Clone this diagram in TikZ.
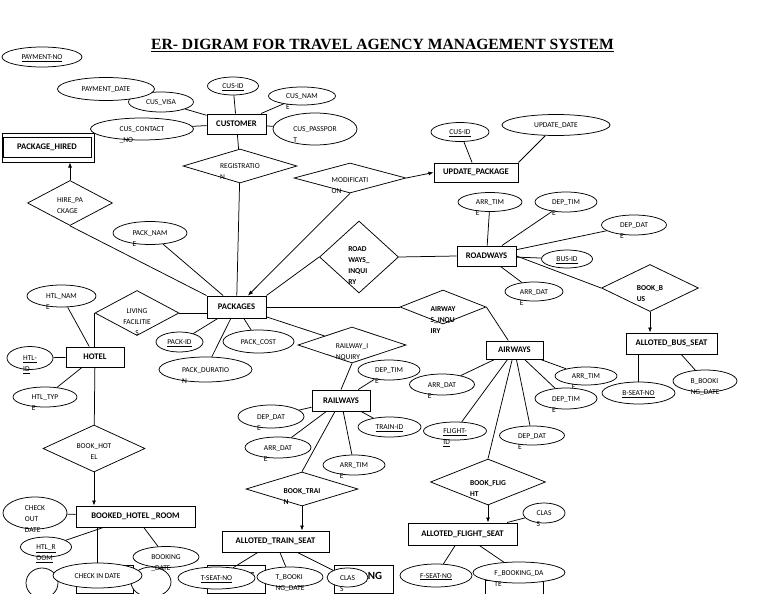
\documentclass[tikz,border=0pt]{standalone}
\usepackage{fontspec}
\setmainfont{Carlito}
\newfontfamily\titlefont{Liberation Serif}
\usetikzlibrary{arrows.meta,shapes.geometric}
\newcommand{\attrfont}{\fontsize{7.5}{11}\selectfont}
\newcommand{\entfont}{\fontsize{8.6}{10}\selectfont\bfseries}
% text lines: first line sits on the node centre, the rest hang below
\newcommand{\atxt}[2][0pt]{\smash{\raisebox{\dimexpr-0.7ex+#1\relax}{\begin{tabular}[t]{@{}l@{}}#2\end{tabular}}}}
\newcommand{\atxtc}[2][0pt]{\smash{\raisebox{\dimexpr-0.7ex+#1\relax}{\begin{tabular}[t]{@{}c@{}}#2\end{tabular}}}}

\begin{document}
\begin{tikzpicture}[x=1pt,y=-1pt,
  wh/.style 2 args={minimum width=#1,minimum height=#2},
  ent/.style={draw,line width=1pt,fill=white,font=\entfont,inner sep=0pt},
  frame/.style={draw,line width=1pt,fill=white,inner sep=0pt},
  attr/.style={draw,ellipse,line width=0.75pt,fill=white,font=\attrfont,inner sep=0pt},
  rel/.style={draw,diamond,aspect=3,line width=0.75pt,fill=white,font=\attrfont,inner sep=0pt},
  relb/.style={rel,font=\attrfont\bfseries},
  link/.style={line width=0.75pt},
  arr/.style={-{Latex[length=5pt,width=4pt]},line width=0.75pt}
]
\useasboundingbox (0,0) rectangle (768,594);
\node[font=\titlefont\fontsize{15.6}{18}\selectfont\bfseries,anchor=base] (title) at (382.5,50)
  {\underline{ER- DIGRAM FOR TRAVEL AGENCY MANAGEMENT SYSTEM}};

% customer side
\node[ent,wh={59}{20}] (customer) at (236.5,124) {CUSTOMER};
\node[attr,wh={80}{20}] (payno) at (42,57) {\atxt{\underline{PAYMENT-NO}}};
\node[attr,wh={65}{20}] (cusvisa) at (161,102) {\atxt{CUS\_VISA}};
\node[attr,wh={97}{23}] (paydate) at (106,89) {\atxt{PAYMENT\_DATE}};
\node[attr,wh={51}{18}] (cusid) at (233,86) {\atxt{\underline{CUS-ID}}};
\node[attr,wh={67}{18}] (cusnam) at (302,96) {\atxt{CUS\_NAM\\E}};
\node[attr,wh={84}{32}] (cuspass) at (315,129) {\atxt{CUS\_PASSPOR\\T}};
\node[frame,wh={92}{29}] (pkghired) at (48,147.5) {};
\node[ent,wh={88}{20}] (pkghiredin) at (47,147) {PACKAGE\_HIRED};
\node[attr,wh={103}{22}] (cuscontact) at (142,129) {\atxt{CUS\_CONTACT\\\_NO}};
\node[rel,wh={114}{34}] (reg) at (240,166) {\atxt{REGISTRATIO\\N}};
\node[rel,wh={85}{45}] (hire) at (70,203) {\atxt[3pt]{HIRE\_PA\\CKAGE}};
\node[rel,wh={112}{30}] (modif) at (350,178) {\atxt[-2pt]{MODIFICATI\\ON}};
\node[ent,wh={84}{19}] (update) at (476,172.5) {UPDATE\_PACKAGE};
\node[attr,wh={58}{19}] (cusid2) at (460,132) {\atxt{\underline{CUS-ID}}};
\node[attr,wh={108}{21}] (updatedate) at (556,125) {\atxt{UPDATE\_DATE}};

% packages
\node[ent,wh={59}{22}] (packages) at (236.5,307) {PACKAGES};
\node[attr,wh={74}{23}] (packname) at (150,233) {\atxt{PACK\_NAM\\E}};
\node[attr,wh={47}{20}] (packid) at (179.5,342) {\atxt{\underline{PACK-ID}}};
\node[attr,wh={71}{23}] (packcost) at (258.5,341.5) {\atxt{PACK\_COST}};
\node[attr,wh={93}{25}] (packdur) at (205.5,369.5) {\atxt{PACK\_DURATIO\\N}};

% roadways
\node[relb,wh={79}{72}] (roadinq) at (359,257) {\atxt[8pt]{ROAD\\WAYS\_\\INQUI\\RY}};
\node[ent,wh={59}{20}] (roadways) at (486.5,256) {ROADWAYS};
\node[attr,wh={64}{19}] (arrtimroad) at (490,202) {\atxt{ARR\_TIM\\E}};
\node[attr,wh={62}{20}] (deptimroad) at (566,202) {\atxt{DEP\_TIM\\E}};
\node[attr,wh={65}{20}] (depdatroad) at (634,225) {\atxt{DEP\_DAT\\E}};
\node[attr,wh={51}{18}] (busid) at (567,259) {\atxt{\underline{BUS-ID}}};
\node[attr,wh={58}{19}] (arrdatroad) at (534,291.5) {\atxt{ARR\_DAT\\E}};
\node[relb,wh={97}{47}] (bookbus) at (650,288) {\atxt{BOOK\_B\\US}};
\node[ent,wh={91}{21}] (busseat) at (671.5,343.5) {ALLOTED\_BUS\_SEAT};
\node[attr,wh={73}{22}] (bseatno) at (638.5,393) {\atxt{\underline{B-SEAT-NO}}};
\node[attr,wh={64}{22}] (bbooking) at (705,381) {\atxt{B\_BOOKI\\NG\_DATE}};

% airways
\node[relb,wh={86}{34}] (airinq) at (443,307) {\atxt[-2pt]{AIRWAY\\S\_INQU\\IRY}};
\node[ent,wh={57}{18}] (airways) at (514.5,350) {AIRWAYS};
\node[attr,wh={65}{21}] (arrdatair) at (442,384.5) {\atxt{ARR\_DAT\\E}};
\node[attr,wh={63}{18}] (flightid) at (455,431) {\atxt{\underline{FLIGHT-}\\\underline{ID}}};
\node[attr,wh={65}{19}] (depdatair) at (532,435.5) {\atxt{DEP\_DAT\\E}};
\node[attr,wh={62}{18}] (arrtimair) at (586,376) {\atxt{ARR\_TIM\\E}};
\node[attr,wh={62}{21}] (deptimair) at (566,398.5) {\atxt{DEP\_TIM\\E}};
\node[relb,wh={115}{46}] (bookflight) at (488,482) {\atxt[-1pt]{BOOK\_FLIG\\HT}};
\node[ent,wh={109}{22}] (flightseat) at (462.5,534) {ALLOTED\_FLIGHT\_SEAT};
\node[attr,wh={42}{20}] (classf) at (544,513) {\atxt{CLAS\\S}};
\node[frame,wh={58}{14}] (fbox) at (514,587) {};
\node[attr,wh={72}{23}] (fseatno) at (436,575.5) {\atxt{\underline{F-SEAT-NO}}};
\node[attr,wh={92}{21}] (fbooking) at (519,572.5) {\atxt{F\_BOOKING\_DA\\TE}};

% railways
\node[rel,wh={108}{36}] (railinq) at (352,345) {\atxt[-1pt]{RAILWAY\_I\\NQUIRY}};
\node[ent,wh={58}{21}] (railways) at (341,400.5) {RAILWAYS};
\node[attr,wh={62}{20}] (deptimrail) at (389,370) {\atxt{DEP\_TIM\\E}};
\node[attr,wh={66}{23}] (depdatrail) at (271,416.5) {\atxt{DEP\_DAT\\E}};
\node[attr,wh={63}{20}] (trainid) at (389.5,427) {\atxt{\underline{TRAIN-ID}}};
\node[attr,wh={66}{21}] (arrdatrail) at (278,447.5) {\atxt{ARR\_DAT\\E}};
\node[attr,wh={62}{20}] (arrtimrail) at (354,465) {\atxt{ARR\_TIM\\E}};
\node[relb,wh={112}{34}] (booktrain) at (302,489) {\atxt[-2pt]{BOOK\_TRAI\\N}};
\node[ent,wh={107}{21}] (trainseat) at (275.5,541.5) {ALLOTED\_TRAIN\_SEAT};
\node[frame,wh={58}{28}] (bookl) at (236,579) {};
\node[font=\fontsize{9}{10}\selectfont\bfseries] (booklabel) at (252,576) {G};
\node[frame,wh={59}{28}] (bookr) at (363.5,579) {};
\node[font=\fontsize{11}{12}\selectfont\bfseries] (booklabelr) at (375,576) {NG};
\node[attr,wh={77}{22}] (tseatno) at (216.5,578) {\atxt{\underline{T-SEAT-NO}}};
\node[attr,wh={66}{20}] (tbooking) at (290,577) {\atxt{T\_BOOKI\\NG\_DATE}};
\node[attr,wh={41}{19}] (classt) at (347.5,577.5) {\atxt{CLAS\\S}};

% hotel
\node[rel,wh={84}{45}] (living) at (137,313) {\atxtc[2pt]{LIVING\\FACILITIE\\S}};
\node[ent,wh={58}{20}] (hotel) at (95,357) {HOTEL};
\node[attr,wh={69}{22}] (htlname) at (61.5,296) {\atxt{HTL\_NAM\\E}};
\node[attr,wh={46}{23}] (htlid) at (30,358) {\atxt{\underline{HTL-}\\\underline{ID}}};
\node[attr,wh={64}{20}] (htltype) at (45,397) {\atxt{HTL\_TYP\\E}};
\node[rel,wh={102}{47}] (bookhotel) at (94,448.5) {\atxtc[2.5pt]{BOOK\_HOT\\EL}};
\node[ent,wh={119}{21}] (bookedroom) at (135.5,516.5) {BOOKED\_HOTEL \_ROOM};
\node[attr,wh={64}{32}] (checkout) at (35,513) {\atxt[5pt]{CHECK\\OUT\\DATE}};
\node[attr,wh={51}{20}] (htlroom) at (46,547) {\atxt{\underline{HTL\_R}\\\underline{OOM}}};
\node[frame,wh={57}{28}] (checkbox) at (104.5,579) {};
\node[attr,wh={32}{30}] (blankl) at (42,583) {};
\node[attr,wh={40}{30}] (blankr) at (151,582) {};
\node[attr,wh={66}{21}] (bookingdate) at (166,557) {\atxt{BOOKING\\\_DATE}};
\node[attr,wh={89}{25}] (checkin) at (97.5,575.5) {\atxt{CHECK IN DATE}};

% connectors
\draw[link] (cusid) -- (customer);
\draw[link] (cusnam) -- (customer);
\draw[link] (cuspass) -- (customer);
\draw[link] (cusvisa) -- (customer);
\draw[link] (cuscontact) -- (customer);
\draw[link] (customer) -- (reg);
\draw[link] (reg) -- (packages);
\draw[arr] (hire.north) -- (hire.north |- pkghired.south);
\draw[link] (hire.south) -- (packages.north west);
\draw[link] (packname) -- (packages);
\draw[arr] (modif.east) -- (update.west);
\draw[arr] (modif.south) -- (packages);
\draw[link] (cusid2) -- (update);
\draw[link] (updatedate) -- (update.north east);
\draw[link] (packid) -- (packages);
\draw[link] (packcost) -- (packages);
\draw[link] (packdur) -- (packages);

\draw[link] (roadinq.west) -- (packages.north east);
\draw[link] (roadinq.east) -- (roadways.west);
\draw[link] (arrtimroad) -- (roadways);
\draw[link] (deptimroad) -- (roadways);
\draw[link] (depdatroad) -- (roadways);
\draw[link] (busid) -- (roadways);
\draw[link] (arrdatroad) -- (roadways);
\draw[link] (roadways.east) -- (bookbus.west);
\draw[arr] (bookbus.south) -- (bookbus.south |- busseat.north);
\draw[link] (bseatno) -- (bseatno |- busseat.south);
\draw[link] (bbooking) -- (busseat);

\draw[link] (packages.east) -- (airinq.west);
\draw[link] (airinq.east) -- (airways);
\draw[link] (arrdatair) -- (airways);
\draw[link] (flightid) -- (airways);
\draw[link] (depdatair) -- (airways);
\draw[link] (arrtimair) -- (airways);
\draw[link] (deptimair) -- (airways);
\draw[link] (airways) -- (bookflight.north);
\draw[arr] (bookflight.south) -- (bookflight.south |- flightseat.north);
\draw[link] (classf) -- (flightseat);
\draw[link] (fseatno) -- (flightseat);
\draw[link] (fbooking) -- (flightseat);

\draw[link] (packages) -- (railinq);
\draw[link] (railinq.south) -- (railways.north);
\draw[link] (deptimrail) -- (railways);
\draw[link] (depdatrail) -- (railways);
\draw[link] (trainid) -- (railways);
\draw[link] (arrdatrail) -- (railways);
\draw[link] (arrtimrail) -- (railways);
\draw[link] (railways) -- (booktrain.north);
\draw[arr] (booktrain.south) -- (booktrain.south |- trainseat.north);
\draw[link] (tseatno) -- (trainseat);
\draw[link] (tbooking) -- (trainseat);
\draw[link] (classt) -- (trainseat);

\draw[link] (living.east) -- (living.east -| packages.west);
\draw[link] (living.west) -- (living.west |- hotel.north);
\draw[link] (htlname) -- (hotel);
\draw[link] (htlid) -- (hotel);
\draw[link] (htltype) -- (hotel);
\draw[link] (hotel) -- (bookhotel);
\draw[arr] (bookhotel.south) -- (bookhotel.south |- bookedroom.north);
\draw[link] (checkout) -- (bookedroom);
\draw[link] (htlroom) -- (bookedroom);
\draw[link] (bookingdate) -- (bookedroom);
\draw[link] (checkin) -- (checkin |- bookedroom.south);
\end{tikzpicture}
\end{document}
